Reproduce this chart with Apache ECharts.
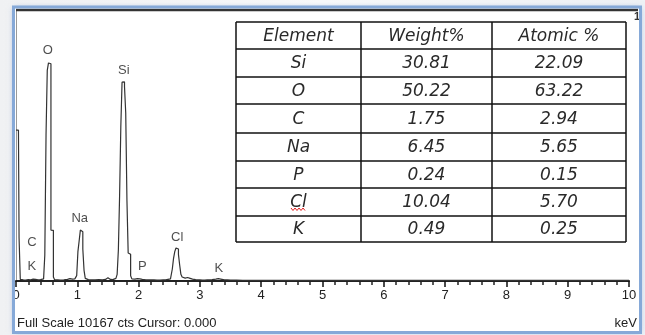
<!DOCTYPE html>
<html><head><meta charset="utf-8">
<script src="https://cdn.jsdelivr.net/npm/echarts@6/dist/echarts.min.js"></script>
<style>
html,body{margin:0;padding:0}
body{background:linear-gradient(90deg,#f0f1f3,#f8f9fa 50%,#eef1f5);width:645px;height:335px;position:relative;overflow:hidden}
#panel{position:absolute;left:14px;top:8px;width:626px;height:324px;background:#fff;box-shadow:0 0 6px rgba(90,130,200,0.6)}
#c{position:absolute;left:0;top:0;width:645px;height:335px}
</style>
</head><body><div id="panel"></div><div id="c"></div>
<script>
// Spectrum (energy keV, counts)
const energy = [0,0.02,0.04,0.06,0.08,0.10,0.14,0.18,0.22,0.26,0.30,0.34,0.38,0.42,0.44,0.46,0.48,0.50,0.52,0.54,0.56,0.58,0.60,0.62,0.64,0.68,0.72,0.78,0.84,0.88,0.92,0.96,0.98,1.00,1.02,1.04,1.06,1.08,1.10,1.12,1.14,1.16,1.20,1.26,1.32,1.38,1.44,1.48,1.50,1.52,1.56,1.60,1.62,1.64,1.66,1.68,1.70,1.72,1.74,1.76,1.78,1.80,1.82,1.84,1.86,1.88,1.90,1.94,1.98,2.02,2.06,2.12,2.20,2.30,2.40,2.48,2.52,2.54,2.56,2.58,2.60,2.62,2.64,2.66,2.68,2.70,2.72,2.74,2.78,2.82,2.86,2.90,2.96,3.04,3.12,3.20,3.26,3.30,3.34,3.40,3.50,3.70,4.00,4.50,5.00,5.50,6.00,6.50,7.00,7.50,8.00,8.50,9.00,9.50,10.00];
const counts = [5660,5660,5660,1620,60,40,30,50,40,70,60,40,50,60,80,150,975,5475,7900,8180,8150,1910,1900,150,50,40,30,40,60,90,70,80,60,200,1100,1500,1910,1850,1200,400,100,50,40,40,50,40,60,110,120,60,50,70,100,150,250,1160,3200,5800,7460,7470,7300,6300,3000,1050,1000,200,80,70,90,80,60,40,40,30,40,60,80,120,450,850,1100,1240,1200,1000,600,250,150,110,130,100,70,50,40,30,40,50,70,90,70,40,30,25,20,20,20,20,20,20,20,20,20,20,20,20,20];
// Peak labels
const peakNames = ['O','Si','Na','Cl','C','K','P','K'];
const peakX = [0.52,1.76,1.04,2.63,0.26,0.26,2.06,3.31];
const peakY = [8660,7910,2360,1650,1460,530,530,490];
// Axis
const fullScale = 10167;
const xTicks = [0,1,2,3,4,5,6,7,8,9,10];
// Table
const tableHeader = ['Element','Weight%','Atomic %'];
const elements = ['Si','O','C','Na','P','Cl','K'];
const weightPct = ['30.81','50.22','1.75','6.45','0.24','10.04','0.49'];
const atomicPct = ['22.09','63.22','2.94','5.65','0.15','5.70','0.25'];

const chart = echarts.init(document.getElementById('c'), null, {renderer:'canvas'});

const tX = [236, 361, 492, 626];
const tY = [22, 49, 77, 104, 133, 161, 188, 216, 242];
const g = [];
g.push({type:'rect', z:50, silent:true, shape:{x:13.5,y:7,width:627,height:325.5}, style:{fill:null, stroke:'#86a9d8', lineWidth:3}});
g.push({type:'line', z:40, silent:true, shape:{x1:16,y1:10,x2:638,y2:10}, style:{stroke:'#333', lineWidth:2.5}});
tY.forEach(y=>g.push({type:'line', z:20, silent:true, shape:{x1:tX[0],y1:y,x2:tX[3],y2:y}, style:{stroke:'#111', lineWidth:1.5}}));
tX.forEach(x=>g.push({type:'line', z:20, silent:true, shape:{x1:x,y1:tY[0],x2:x,y2:tY[8]}, style:{stroke:'#111', lineWidth:1.5}}));
const rows = [tableHeader].concat(elements.map((e,i)=>[e, weightPct[i], atomicPct[i]]));
rows.forEach((r,ri)=>{
  r.forEach((txt,ci)=>{
    g.push({type:'text', z:21, silent:true, style:{text:txt, x:(tX[ci]+tX[ci+1])/2, y:(tY[ri]+tY[ri+1])/2+1, align:'center', verticalAlign:'middle', font:'italic 17px "DejaVu Sans"', fill:'#2a2a2a'}});
  });
});
g.push({type:'polyline', z:22, silent:true, shape:{points:[[291,208],[293,210.5],[295,208],[297,210.5],[299,208],[301,210.5],[303,208],[305,210.5]]}, style:{stroke:'#e02020', lineWidth:1, fill:null}});
g.push({type:'text', z:21, silent:true, style:{text:'1', x:637, y:17, align:'center', verticalAlign:'middle', font:'bold 11px "Liberation Sans"', fill:'#333'}});
g.push({type:'text', z:21, silent:true, style:{text:'Full Scale ' + fullScale + ' cts Cursor: 0.000', x:17, y:323, align:'left', verticalAlign:'middle', font:'13px "Liberation Sans"', fill:'#222'}});
g.push({type:'text', z:21, silent:true, style:{text:'keV', x:637, y:323, align:'right', verticalAlign:'middle', font:'13px "Liberation Sans"', fill:'#222'}});

chart.setOption({
  animation:false,
  backgroundColor:'transparent',
  grid:{left:16, right:16, top:10, bottom:54},
  xAxis:{type:'value', min:0, max:10, interval:1, position:'bottom',
    axisLine:{show:true, onZero:false, lineStyle:{color:'#222', width:2}},
    axisTick:{show:true, inside:false, length:6, lineStyle:{color:'#111', width:1.5}},
    minorTick:{show:true, splitNumber:5, length:4, lineStyle:{color:'#222', width:1.5}},
    splitLine:{show:false}, minorSplitLine:{show:false},
    axisLabel:{margin:8, fontSize:13, fontFamily:'Liberation Sans', color:'#222', formatter:v=>xTicks.includes(v)?String(v):''}},
  yAxis:{type:'value', min:0, max:fullScale, show:true, axisLine:{show:true, lineStyle:{color:'#9a9a9a'}}, axisTick:{show:false}, axisLabel:{show:false}, splitLine:{show:false}},
  graphic:g,
  series:[
    {type:'line', step:'middle', symbol:'none', data:energy.map((e,i)=>[e,counts[i]]), lineStyle:{color:'#333', width:1.2}, z:3},
    {type:'scatter', symbolSize:0, data:peakX.map((x,i)=>[x,peakY[i],peakNames[i]]), z:4,
      label:{show:true, position:'inside', formatter:p=>p.data[2], fontSize:13, fontFamily:'Liberation Sans', color:'#222'}}
  ]
});
</script></body></html>
